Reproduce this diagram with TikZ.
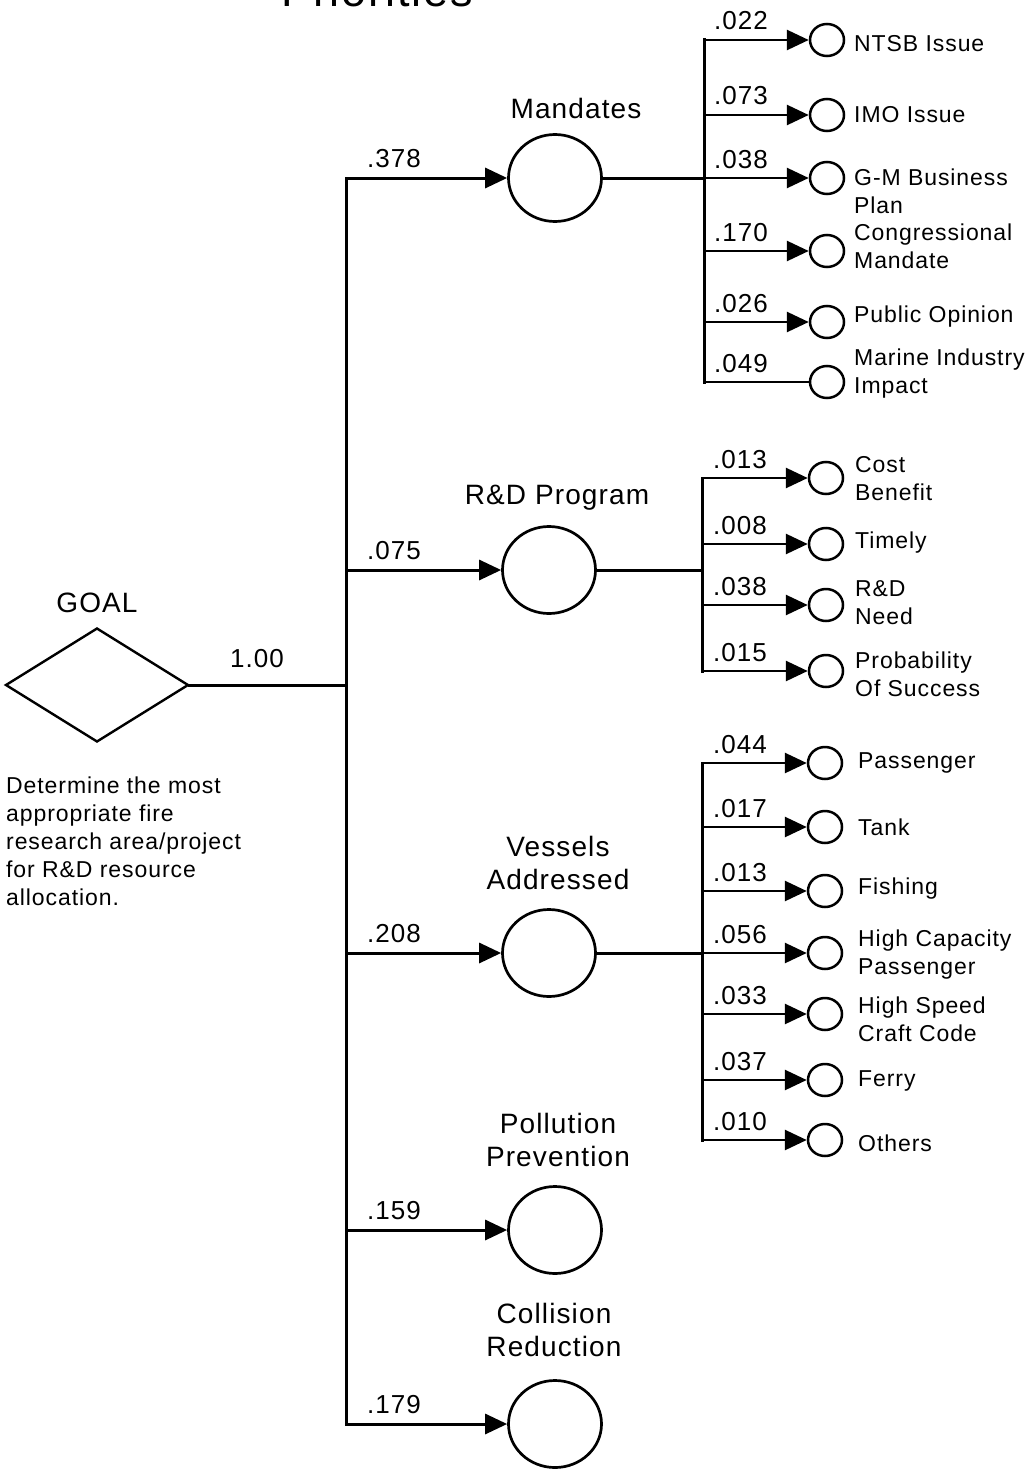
\documentclass[tikz,border=0pt]{standalone}
\usepackage{fontspec}
\setmainfont{Liberation Sans}[LetterSpace=4]
\usetikzlibrary{arrows.meta, positioning, shapes.geometric, calc}

\tikzset{
  wire/.style={line width=3pt, line cap=rect},
  flow/.style={wire, -{Triangle[length=22pt, width=20pt]}},
  twig/.style={line width=2.8pt, line cap=rect, -{Triangle[length=22pt, width=20pt]}},
  bare/.style={line width=2.8pt, line cap=rect},
  crit/.style={ellipse, draw, line width=2.7pt, minimum width=93pt, minimum height=87pt, inner sep=0pt},
  alt/.style={ellipse, draw, line width=2.5pt, minimum width=34pt, minimum height=32pt, inner sep=0pt},
  bigtxt/.style={font=\fontsize{28}{33}\selectfont, align=center, inner sep=0pt},
  wt/.style={font=\fontsize{26}{30}\selectfont, anchor=base west, inner sep=0pt},
  leaf/.style={font=\fontsize{23}{28}\selectfont, align=left, anchor=west, inner sep=0pt},
}

\begin{document}
\begin{tikzpicture}[x=1pt, y=-1pt]
  \clip (0,0) rectangle (1031,1469);
  \node[font=\fontsize{45}{50}\selectfont, anchor=base, inner sep=0pt] (title) at (377,7) {Priorities};

  % goal
  \node[diamond, draw, line width=2.4pt, minimum width=183pt, minimum height=114pt, inner sep=0pt] (goal) at (97,685) {};
  \node[font=\fontsize{28}{32}\selectfont, inner sep=0pt] (goallbl) at (97,603) {GOAL};
  \node[font=\fontsize{23}{28}\selectfont, align=left, anchor=north west, inner sep=0pt] (goaldesc) at (6,777)
    {Determine the most\\appropriate fire\\research area/project\\for R\&D resource\\allocation.};
  \coordinate (jt) at (346,685);
  \draw[wire] (goal.east) -- (jt);
  \node[wt] (w0) at (230,667) {1.00};

  % criteria
  \node[crit] (mand) at (555,178) {};
  \node[crit] (rdp) at (549,570) {};
  \node[crit] (vess) at (549,953) {};
  \node[crit] (poll) at (555,1230) {};
  \node[crit] (coll) at (555,1424) {};
  \node[bigtxt] (mandlbl) at (576,108) {Mandates};
  \node[bigtxt] (rdplbl) at (557,498) {R\&D Program};
  \node[bigtxt] (vesslbl) at (558,863) {Vessels\\Addressed};
  \node[bigtxt] (polllbl) at (558,1140) {Pollution\\Prevention};
  \node[bigtxt] (colllbl) at (554,1330) {Collision\\Reduction};

  \coordinate (ttop) at (346,178);
  \coordinate (tbot) at (346,1424);
  \draw[wire] (ttop) -- (tbot);
  \foreach \n/\w in {mand/.378, rdp/.075, vess/.208, poll/.159, coll/.179}{
    \draw[flow] (ttop |- \n) -- (\n);
    \node[wt] (w-\n) at ($(ttop |- \n)+(21,-11)$) {\w};
  }

  % mandates sub-criteria
  \coordinate (ms) at (704,178);
  \draw[wire] (mand) -- (ms);
  \foreach \i/\y/\w/\tip in {1/40/.022/twig, 2/115/.073/twig, 3/178/.038/twig,
      4/251/.170/twig, 5/322/.026/twig, 6/382/.049/bare}{
    \node[alt] (m\i) at (827,\y) {};
    \draw[\tip] (m\i -| ms) -- (m\i);
    \node[wt] (mw\i) at ($(m\i -| ms)+(10,-10)$) {\w};
  }
  \draw[wire] (m1 -| ms) -- (m6 -| ms);
  \foreach \i/\y/\t in {1/44/NTSB Issue, 2/115/IMO Issue, 3/191/{G-M Business\\Plan},
      4/246/{Congressional\\Mandate}, 5/317/Public Opinion, 6/374/{Marine Industry\\Impact}}
    \node[leaf] (mt\i) at (854,\y) {\t};

  % r&d sub-criteria
  \coordinate (rs) at (702,570);
  \draw[wire] (rdp) -- (rs);
  \foreach \i/\y/\w in {1/478/.013, 2/544/.008, 3/605/.038, 4/671/.015}{
    \node[alt] (r\i) at (826,\y) {};
    \draw[twig] (r\i -| rs) -- (r\i);
    \node[wt] (rw\i) at ($(r\i -| rs)+(11,-10)$) {\w};
  }
  \draw[wire] (r1 -| rs) -- (r4 -| rs);
  \foreach \i/\y/\t in {1/479/{Cost\\Benefit}, 2/543/Timely, 3/603/{R\&D\\Need},
      4/674/{Probability\\Of Success}}
    \node[leaf] (rt\i) at (855,\y) {\t};

  % vessel sub-criteria
  \coordinate (vs) at (702,953);
  \draw[wire] (vess) -- (vs);
  \foreach \i/\y/\w in {1/763/.044, 2/827/.017, 3/891/.013, 4/953/.056,
      5/1014/.033, 6/1080/.037, 7/1140/.010}{
    \node[alt] (v\i) at (825,\y) {};
    \draw[twig] (v\i -| vs) -- (v\i);
    \node[wt] (vw\i) at ($(v\i -| vs)+(11,-10)$) {\w};
  }
  \draw[wire] (v1 -| vs) -- (v7 -| vs);
  \foreach \i/\y/\t in {1/763/Passenger, 2/827/Tank, 3/889/Fishing,
      4/955/{High Capacity\\Passenger}, 5/1019/{High Speed\\Craft Code}, 6/1081/Ferry, 7/1143/Others}
    \node[leaf] (vt\i) at (858,\y) {\t};
\end{tikzpicture}
\end{document}
